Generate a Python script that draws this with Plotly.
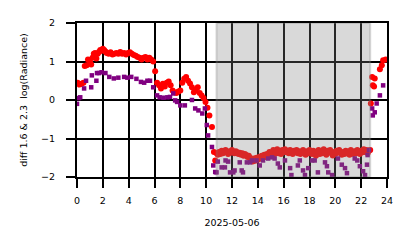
import plotly.graph_objects as go

# ---- red series (diff 1.6) ----
red_hours = [0.05, 0.2, 0.35, 0.5, 0.6, 0.75, 0.85, 1.0, 1.1, 1.2, 1.3, 1.4, 1.5, 1.6, 1.7, 1.8, 1.9,
             2.0, 2.1, 2.2, 2.3, 2.45, 2.6, 2.75, 2.9, 3.05, 3.2, 3.35, 3.5, 3.65, 3.8, 3.95, 4.1,
             4.25, 4.4, 4.55, 4.7, 4.85, 5.0, 5.15, 5.3, 5.45, 5.6, 5.75, 5.9, 6.05, 6.2, 6.35,
             6.5, 6.65, 6.8, 6.95, 7.1, 7.25, 7.4, 7.55, 7.7, 7.85, 8.0, 8.15, 8.3, 8.45, 8.6,
             8.75, 8.9, 9.05, 9.2, 9.35, 9.5, 9.65, 9.8, 9.95, 10.1, 10.25, 10.45,
             10.6, 10.7, 10.8, 10.9, 11.0, 11.1, 11.2, 11.3, 11.4, 11.5,
             11.6, 11.7, 11.8, 11.9, 12.0, 12.1, 12.2, 12.3, 12.4, 12.5,
             12.6, 12.7, 12.8, 12.9, 13.0, 13.1, 13.2, 13.3, 13.4, 13.5,
             13.6, 13.7, 13.8, 13.9, 14.0, 14.1, 14.2, 14.3, 14.4, 14.5,
             14.6, 14.7, 14.8, 14.9, 15.0, 15.1, 15.2, 15.3, 15.4, 15.5,
             15.6, 15.7, 15.8, 15.9, 16.0, 16.1, 16.2, 16.3, 16.4, 16.5,
             16.6, 16.7, 16.8, 16.9, 17.0, 17.1, 17.2, 17.3, 17.4, 17.5,
             17.6, 17.7, 17.8, 17.9, 18.0, 18.1, 18.2, 18.3, 18.4, 18.5,
             18.6, 18.7, 18.8, 18.9, 19.0, 19.1, 19.2, 19.3, 19.4, 19.5,
             19.6, 19.7, 19.8, 19.9, 20.0, 20.1, 20.2, 20.3, 20.4, 20.5,
             20.6, 20.7, 20.8, 20.9, 21.0, 21.1, 21.2, 21.3, 21.4, 21.5,
             21.6, 21.7, 21.8, 21.9, 22.0, 22.1, 22.2, 22.3, 22.4, 22.5,
             22.6, 22.7,
             22.75, 22.85, 22.9, 23.0, 23.05, 23.45, 23.6, 23.7, 23.9]
red_values = [0.45, 0.4, 0.42, 0.45, 0.88, 0.9, 1.05, 1.0, 0.92, 1.1, 1.2, 1.22, 1.08, 1.2, 1.25, 1.3, 1.28,
              1.33, 1.3, 1.26, 1.22, 1.2, 1.24, 1.18, 1.2, 1.22, 1.2, 1.25, 1.2, 1.22, 1.18, 1.22, 1.24,
              1.2, 1.17, 1.15, 1.12, 1.1, 1.05, 1.1, 1.12, 1.05, 1.1, 1.05, 1.0, 0.75, 0.45, 0.38,
              0.3, 0.42, 0.35, 0.45, 0.48, 0.38, 0.25, 0.2, 0.18, 0.22, 0.25, 0.45, 0.55, 0.6, 0.5,
              0.43, 0.33, 0.2, 0.25, 0.33, 0.18, 0.12, 0.05, -0.05, -0.2, -0.4, -0.7,
              -1.35, -1.57, -1.38, -1.42, -1.35, -1.4, -1.32, -1.38, -1.36, -1.3,
              -1.35, -1.4, -1.33, -1.37, -1.3, -1.35, -1.38, -1.33, -1.36, -1.4,
              -1.37, -1.42, -1.38, -1.45, -1.4, -1.43, -1.48, -1.45, -1.5, -1.55,
              -1.6, -1.52, -1.58, -1.5, -1.55, -1.48, -1.52, -1.45, -1.5, -1.42,
              -1.48, -1.4, -1.45, -1.35, -1.42, -1.38, -1.3, -1.4, -1.35, -1.28,
              -1.38, -1.32, -1.4, -1.3, -1.35, -1.28, -1.36, -1.32, -1.38, -1.3,
              -1.35, -1.4, -1.32, -1.36, -1.3, -1.38, -1.33, -1.4, -1.35, -1.3,
              -1.37, -1.42, -1.33, -1.38, -1.3, -1.36, -1.4, -1.32, -1.38, -1.45,
              -1.35, -1.3, -1.4, -1.34, -1.38, -1.28, -1.35, -1.42, -1.32, -1.36,
              -1.3, -1.38, -1.44, -1.35, -1.4, -1.32, -1.36, -1.3, -1.38, -1.42,
              -1.35, -1.4, -1.32, -1.38, -1.34, -1.42, -1.3, -1.36, -1.4, -1.33,
              -1.38, -1.3, -1.35, -1.4, -1.32, -1.36, -1.28, -1.35, -1.3, -1.38,
              -1.32, -1.3,
              -0.09, 0.6, 0.38, 0.35, 0.56, 0.8, 0.9, 1.03, 1.05]

# ---- purple series (diff 2.3) ----
purple_hours = [0.0, 0.12, 0.25, 0.55, 0.7, 1.1, 1.15, 1.5, 1.55, 1.7, 1.9, 2.2, 2.5, 2.85, 3.2,
                3.65, 3.9, 4.2, 4.6, 4.95, 5.2, 5.45, 5.65, 5.9, 6.2, 6.4, 6.7, 7.0, 7.2, 7.45,
                7.6, 7.75, 8.0, 8.35, 8.9, 9.15, 9.4, 9.7, 9.9, 10.05, 10.15, 10.45,
                10.55, 10.7, 10.8, 10.9, 11.2, 11.45, 11.5, 11.7, 11.85, 12.1, 12.2, 12.6, 12.75,
                12.85, 13.15, 13.4, 13.55, 13.9, 14.15, 14.4, 14.8, 15.1, 15.3, 15.55, 15.7,
                16.1, 16.5, 16.6, 17.1, 17.25, 17.5, 17.65, 17.9, 18.2, 18.4, 18.65, 19.2,
                19.35, 19.45, 19.75, 20.2, 20.5, 20.75, 20.9, 21.5, 21.7, 21.9, 22.15, 22.3,
                22.45, 22.5, 22.6,
                22.85, 22.9, 23.05, 23.2, 23.45, 23.7]
purple_values = [-0.1, 0.05, 0.07, 0.3, 0.5, 0.33, 0.64, 0.5, 0.7, 0.7, 0.72, 0.7, 0.6, 0.56, 0.58,
                 0.6, 0.58, 0.6, 0.55, 0.47, 0.45, 0.5, 0.5, 0.33, 0.12, 0.07, 0.06, 0.07, 0.08, 0.17,
                 -0.01, -0.05, -0.14, -0.14, 0.0, -0.22, -0.27, -0.35, -0.22, -0.65, -0.92, -1.22,
                 -1.7, -1.87, -1.88, -1.6, -1.75, -1.75, -1.57, -1.6, -1.88, -1.88, -1.83, -1.62, -1.83,
                 -1.88, -1.62, -1.62, -1.57, -1.57, -1.7, -1.57, -1.52, -1.49, -1.52, -1.65, -1.75,
                 -1.57, -1.77, -1.95, -1.7, -1.57, -1.83, -1.95, -1.77, -1.57, -1.57, -1.88, -1.62,
                 -1.72, -1.88, -1.95, -1.52, -1.68, -1.77, -1.9, -1.52, -1.57, -1.72, -1.85, -1.95,
                 -1.68, -1.43, -1.3,
                 -0.22, -0.4, -0.32, -0.09, 0.12, 0.38]

x_ticks = [0, 2, 4, 6, 8, 10, 12, 14, 16, 18, 20, 22, 24]
y_ticks = [-2, -1, 0, 1, 2]
shade_start, shade_end = 10.8, 22.7

FONT = "DejaVu Sans"

fig = go.Figure()
fig.add_trace(go.Scatter(x=red_hours, y=red_values, mode="markers",
                         marker=dict(color="#ff0000", size=6, symbol="circle", line=dict(width=0)),
                         showlegend=False))
fig.add_trace(go.Scatter(x=purple_hours, y=purple_values, mode="markers",
                         marker=dict(color="#800080", size=4.5, symbol="square", line=dict(width=0)),
                         showlegend=False))

fig.add_shape(type="rect", xref="x", yref="y", x0=shade_start, x1=shade_end, y0=-2, y1=2,
              fillcolor="rgba(128,128,128,0.3)", line=dict(color="rgba(128,128,128,0.3)", width=2),
              layer="above")

axis_common = dict(showgrid=True, gridcolor="black", gridwidth=2,
                   showline=True, linecolor="black", linewidth=2, mirror=True,
                   ticks="outside", ticklen=9, tickwidth=2, tickcolor="black",
                   zeroline=False, tickfont=dict(family=FONT, size=9.5, color="black"))

PAD = "\u00a0\u00a0\u00a0"
fig.update_xaxes(range=[0, 24], tickvals=x_ticks, ticktext=[str(v) for v in x_ticks],
                 ticklabelstandoff=5,
                 title=dict(text="2025-05-06", font=dict(family=FONT, size=9.5, color="black"),
                            standoff=14),
                 **axis_common)
fig.update_yaxes(range=[-2, 2], tickvals=y_ticks,
                 ticktext=[(("\u2212" + str(-v)) if v < 0 else str(v)) + PAD for v in y_ticks],
                 title=dict(text="diff 1.6 & 2.3 \u00a0log(Radiance)", font=dict(family=FONT, size=9.5, color="black"),
                            standoff=12),
                 **axis_common)

fig.update_layout(width=414, height=248, margin=dict(l=77, r=27, t=23, b=71),
                  paper_bgcolor="white", plot_bgcolor="white",
                  font=dict(family=FONT, color="black"))

fig.write_html("out.html")
